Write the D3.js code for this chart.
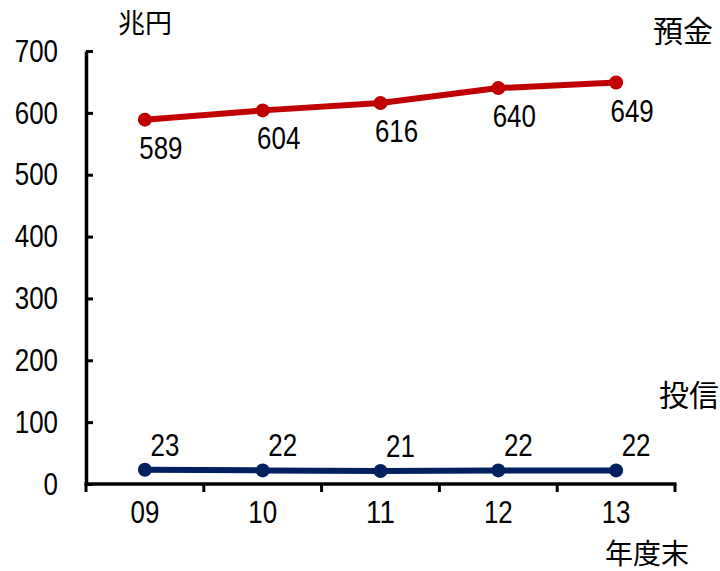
<!DOCTYPE html>
<html>
<head>
<meta charset="utf-8">
<script src="https://cdn.jsdelivr.net/npm/d3@7"></script>
<style>
  body { margin: 0; background: #fff; }
  .num { font-family: "Liberation Sans", sans-serif; font-size: 32px; fill: #000; }
  .jp { font-family: "Noto Sans CJK JP", sans-serif; font-size: 28px; fill: #000; }
</style>
</head>
<body>
<svg id="chart" width="720" height="571"></svg>
<script>
// data
var years = ["09", "10", "11", "12", "13"];
var deposits = [589, 604, 616, 640, 649];   // 預金
var funds = [23, 22, 21, 22, 22];           // 投信
var yTicks = [0, 100, 200, 300, 400, 500, 600, 700];

var svg = d3.select("#chart");
var plotLeft = 86, plotRight = 675, plotTop = 51, plotBottom = 484;
var digitW = 14.4; // narrow digits like the original

var x = d3.scaleBand().domain(years).range([plotLeft, plotRight]);
var y = d3.scaleLinear().domain([0, 700]).range([plotBottom, plotTop]);
var cx = function(d, i) { return x(years[i]) + x.bandwidth() / 2; };

function narrow(sel) {
  sel.attr("class", "num")
    .attr("textLength", function() { return this.textContent.length * digitW; })
    .attr("lengthAdjust", "spacingAndGlyphs");
}

// y axis, ticks pointing inward
var yAxis = svg.append("g")
  .attr("transform", "translate(" + plotLeft + ",0)")
  .call(d3.axisLeft(y).tickValues(yTicks).tickSize(-7).tickPadding(28).tickSizeOuter(0));
yAxis.select(".domain").attr("stroke-width", 3.5);
yAxis.selectAll(".tick line").attr("stroke-width", 3);
yAxis.attr("font-family", null).attr("font-size", null);
yAxis.selectAll("text").call(narrow);

// x axis: labels centred in bands, tick marks on band edges
var xAxis = svg.append("g")
  .attr("transform", "translate(0," + plotBottom + ")")
  .call(d3.axisBottom(x).tickSize(0).tickPadding(16).tickSizeOuter(0));
xAxis.select(".domain").remove();
xAxis.attr("font-family", null).attr("font-size", null);
xAxis.selectAll("text").call(narrow);
svg.append("line")
  .attr("x1", plotLeft - 1.5).attr("x2", plotRight + 1.5)
  .attr("y1", plotBottom).attr("y2", plotBottom)
  .attr("stroke", "#000").attr("stroke-width", 3.5);
var edges = years.map(function(d) { return x(d); }).concat([plotRight]);
svg.selectAll(".xedge").data(edges).enter().append("line")
  .attr("class", "xedge")
  .attr("x1", function(d) { return d; }).attr("x2", function(d) { return d; })
  .attr("y1", plotBottom).attr("y2", plotBottom + 8)
  .attr("stroke", "#000").attr("stroke-width", 3);

// series
function drawSeries(values, color, labelDx, labelDy) {
  var line = d3.line().x(cx).y(function(d) { return y(d); });
  svg.append("path").datum(values)
    .attr("d", line).attr("fill", "none")
    .attr("stroke", color).attr("stroke-width", 6);
  svg.selectAll(null).data(values).enter().append("circle")
    .attr("cx", cx).attr("cy", function(d) { return y(d); })
    .attr("r", 7).attr("fill", color);
  svg.selectAll(null).data(values).enter().append("text")
    .attr("text-anchor", "middle")
    .attr("x", function(d, i) { return cx(d, i) + labelDx; })
    .attr("y", function(d) { return y(d) + labelDy; })
    .text(function(d) { return d; })
    .call(narrow);
}
drawSeries(deposits, "#C00000", 16, 39);
drawSeries(funds, "#002060", 20, -14);

// titles
svg.append("text").attr("class", "jp").attr("x", 145).attr("y", 33).style("font-size", "27px").attr("text-anchor", "middle").text("兆円");
svg.append("text").attr("class", "jp").attr("x", 683).attr("y", 42).style("font-size", "30px").attr("text-anchor", "middle").text("預金");
svg.append("text").attr("class", "jp").attr("x", 689).attr("y", 406).style("font-size", "30px").attr("text-anchor", "middle").text("投信");
svg.append("text").attr("class", "jp").attr("x", 647).attr("y", 564).attr("text-anchor", "middle").text("年度末");
</script>
</body>
</html>
